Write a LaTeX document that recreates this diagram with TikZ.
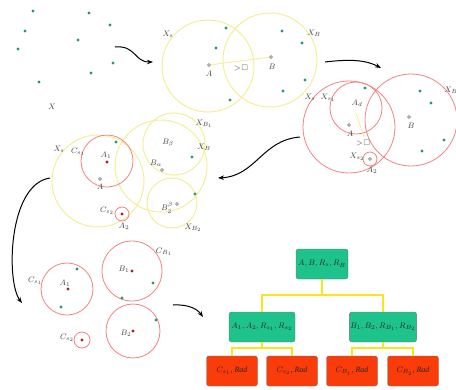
\documentclass[tikz,border=0pt]{standalone}
\usepackage{amssymb}
\usepackage{fontspec}
\setmainfont{Liberation Serif}
\usetikzlibrary{positioning,arrows.meta}

\definecolor{dotgreen}{RGB}{40,150,110}
\definecolor{ringyellow}{RGB}{244,238,150}
\definecolor{ringred}{RGB}{240,130,130}
\definecolor{boxgreen}{RGB}{30,195,140}
\definecolor{boxred}{RGB}{250,60,10}
\definecolor{centred}{RGB}{170,30,30}
\definecolor{linkyellow}{RGB}{245,230,30}

\tikzset{
  gdot/.style={circle, fill=dotgreen, inner sep=0pt, minimum size=3.4pt},
  rdot/.style={circle, fill=centred, inner sep=0pt, minimum size=3.2pt},
  hollow/.style={circle, draw=gray, fill=gray!30, inner sep=0pt, minimum size=3pt},
  ycirc/.style={draw=ringyellow, line width=1pt},
  rcirc/.style={draw=ringred, line width=0.8pt},
  lab/.style={font=\fontsize{8}{9}\selectfont, text=black!75, inner sep=0.5pt},
  treebox/.style={draw=black!55, rounded corners=2.5pt, minimum width=51pt, minimum height=30pt,
    font=\fontsize{8}{9}\selectfont, text=black!85, inner sep=1pt},
  gbox/.style={treebox, fill=boxgreen},
  rbox/.style={treebox, fill=boxred},
  link/.style={draw=linkyellow, line width=1.2pt},
  flow/.style={-{Stealth[length=6pt,width=4.5pt]}, line width=1pt},
}

\begin{document}
\begin{tikzpicture}[x=1pt, y=-1pt]
    \useasboundingbox (0,0) rectangle (456,389);

    % Panel 1: raw points
    \foreach \px/\py [count=\i] in {33/11, 89/13, 25/31, 110/25, 18/49, 78/40, 113/63, 91/73, 39/82}
        \node[gdot] (a\i) at (\px,\py) {};
    \node[lab] (lX) at (52,107) {$X$};
    \draw[flow] (115,47) .. controls (136,45) and (134,62) .. (153,62);

    % Panel 2: two seeds A, B
    \draw[ycirc] (208,66) circle (46);
    \draw[ycirc] (270,60) circle (47);
    \node[hollow] (pA) at (209,65) {};
    \node[hollow] (pB) at (271,57) {};
    \draw[draw=ringyellow, line width=0.9pt] (pA) -- (pB);
    \node[lab] (lA) at (209,74) {$A$};
    \node[lab] (lB) at (272,67) {$B$};
    \node[lab] (lgt) at (241,68) {$>\!\square$};
    \node[lab] (lXs) at (168,34) {$X_s$};
    \node[lab] (lXB) at (314,33) {$X_B$};
    \foreach \px/\py [count=\i] in {226/28, 216/48, 230/100, 282/31, 302/43, 305/80, 283/91}
        \node[gdot] (b\i) at (\px,\py) {};
    \draw[flow] (325,62) .. controls (350,59) and (366,60) .. (381,68);

    % Panel 3: split of X_s
    \draw[rcirc] (349,127) circle (46);
    \draw[rcirc] (411,120) circle (46);
    \draw[rcirc] (356,108) circle (26);
    \draw[rcirc] (370,159) circle (7);
    \node[hollow] (qA) at (349,125) {};
    \node[hollow] (qB) at (409,117) {};
    \node[hollow] (qA2) at (370,159) {};
    \coordinate (qd) at (356,113);
    \coordinate (qe) at (364,137);
    \draw[draw=ringyellow, line width=0.9pt] (qd) -- (qe);
    \node[lab] (lqAd) at (357,103) {$A_d$};
    \node[lab] (lqA) at (350,134) {$A$};
    \node[lab] (lqB) at (411,126) {$B$};
    \node[lab] (lqgt) at (363,143) {$>\!\square$};
    \node[lab] (lqXs2) at (357,157) {$X_{s_2}$};
    \node[lab] (lqA2) at (372,170) {$A_2$};
    \node[lab] (lqXs) at (310,97) {$X_s$};
    \node[lab] (lqXs1) at (328,98) {$X_{s_1}$};
    \node[lab] (lqXB) at (451,90) {$X_B$};
    \foreach \px/\py [count=\i] in {365/88, 420/91, 431/103, 444/140, 422/151}
        \node[gdot] (c\i) at (\px,\py) {};
    \draw[flow] (300,137) .. controls (262,140) and (256,176) .. (218,178);

    % Panel 4: sub-clusters
    \draw[ycirc] (98,181) circle (46);
    \draw[ycirc] (161,166) circle (46);
    \draw[ycirc] (174,144) circle (31);
    \draw[ycirc] (172,203) circle (25);
    \draw[rcirc] (107,161) circle (26);
    \draw[rcirc] (122,214) circle (7);
    \node[rdot] (dA1) at (107,162) {};
    \node[rdot] (dA2) at (122,214) {};
    \node[hollow] (dA) at (100,179) {};
    \node[hollow] (dBa) at (162,170) {};
    \node[hollow] (dBb) at (177,204) {};
    \node[lab] (ldXs) at (59,149) {$X_s$};
    \node[lab] (ldCs1) at (78,152) {$C_{s_1}$};
    \node[lab] (ldA1) at (106,155) {$A_1$};
    \node[lab] (ldA) at (100,187) {$A$};
    \node[lab] (ldCs2) at (107,211) {$C_{s_2}$};
    \node[lab] (ldA2) at (124,226) {$A_2$};
    \node[lab] (ldBb1) at (168,143) {$B_{\beta}$};
    \node[lab] (ldBa) at (156,163) {$B_{\alpha}$};
    \node[lab] (ldBb2) at (167,208) {$B_2^{\beta}$};
    \node[lab] (ldXB1) at (204,124) {$X_{B_1}$};
    \node[lab] (ldXB) at (204,147) {$X_B$};
    \node[lab] (ldXB2) at (193,228) {$X_{B_2}$};
    \foreach \px/\py [count=\i] in {116/142, 192/157, 195/194}
        \node[gdot] (e\i) at (\px,\py) {};
    \draw[flow] (50,178) .. controls (8,184) and (6,282) .. (22,303);

    % Panel 5: final clusters
    \draw[rcirc] (67,289) circle (26);
    \draw[rcirc] (132,271) circle (30);
    \draw[rcirc] (133,331) circle (27);
    \draw[rcirc] (82,340) circle (8);
    \node[rdot] (fA1) at (68,289) {};
    \node[rdot] (fB1) at (132,271) {};
    \node[rdot] (fB2) at (133,331) {};
    \node[rdot] (fA2) at (82,340) {};
    \foreach \px/\py [count=\i] in {77/269, 61/307, 153/283, 122/298, 156/320}
        \node[gdot] (f\i) at (\px,\py) {};
    \node[lab] (lfA1) at (65,283) {$A_1$};
    \node[lab] (lfCs1) at (35,281) {$C_{s_1}$};
    \node[lab] (lfB1) at (124,269) {$B_1$};
    \node[lab] (lfCB1) at (164,252) {$C_{B_1}$};
    \node[lab] (lfB2) at (126,333) {$B_2$};
    \node[lab] (lfCs2) at (67,338) {$C_{s_2}$};
    \draw[flow] (173,305) .. controls (190,304) and (198,310) .. (203,317);

    % Tree of the clusters
    \node[gbox, minimum width=52pt] (root) at (322,264) {$A, B, R_s, R_B$};
    \node[gbox, minimum width=66pt] (ls) at (262,327) {$A_1, A_2, R_{s_1}, R_{s_2}$};
    \node[gbox, minimum width=66pt] (lb) at (383,327) {$B_1, B_2, R_{B_1}, R_{B_2}$};
    \node[rbox] (ms1) at (232,371) {$C_{s_1}$, \textit{Rad}};
    \node[rbox] (ms2) at (292,371) {$C_{s_2}$, \textit{Rad}};
    \node[rbox] (mb1) at (352,371) {$C_{B_1}$, \textit{Rad}};
    \node[rbox] (mb2) at (413,371) {$C_{B_2}$, \textit{Rad}};
    \coordinate (j0) at (322,295);
    \coordinate (js) at (262,348);
    \coordinate (jb) at (383,348);
    \draw[link] (root.south) -- (j0);
    \draw[link] (j0) -| (ls.north);
    \draw[link] (j0) -| (lb.north);
    \draw[link] (ls.south) -- (js);
    \draw[link] (js) -| (ms1.north);
    \draw[link] (js) -| (ms2.north);
    \draw[link] (lb.south) -- (jb);
    \draw[link] (jb) -| (mb1.north);
    \draw[link] (jb) -| (mb2.north);
\end{tikzpicture}
\end{document}
